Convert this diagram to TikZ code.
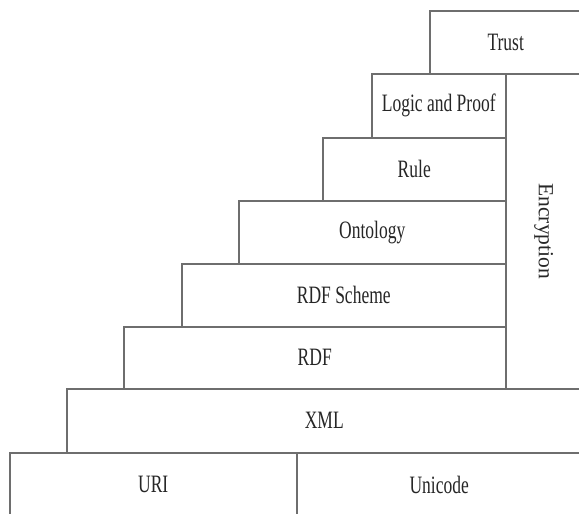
\documentclass[tikz,border=0pt]{standalone}
\usepackage{fontspec}
\setmainfont{Liberation Serif}[FakeStretch=0.70]
\newfontfamily\uprightserif{Liberation Serif}
\begin{document}
\begin{tikzpicture}[x=1pt,y=-1pt,
  layer/.style={draw=edgegray, line width=1.5pt, rectangle, inner sep=0pt,
    anchor=north west, text=black!85, font=\fontsize{25}{29}\selectfont},
  caption/.style={text=black!85, inner sep=0pt, font=\uprightserif\fontsize{21.5}{25}\selectfont}]
  \definecolor{edgegray}{RGB}{110,110,110}
  \useasboundingbox (0,0) rectangle (579,514);
  \clip (0,0) rectangle (579,514);
  \fill[white] (0,0) rectangle (579,514);
  % upper stack, right edge shared with the encryption column
  \node[layer, minimum width=152pt, minimum height=63pt] (trust)    at (429,10)  {Trust};
  \node[layer, minimum width=134pt, minimum height=64pt] (logic)    at (371,73)  {Logic and Proof};
  \node[layer, minimum width=183pt, minimum height=63pt] (rule)     at (322,137) {Rule};
  \node[layer, minimum width=267pt, minimum height=63pt] (ontology) at (238,200) {Ontology};
  \node[layer, minimum width=324pt, minimum height=63pt] (rdfs)     at (181,263) {RDF Scheme};
  \node[layer, minimum width=382pt, minimum height=62pt] (rdf)      at (123,326) {RDF};
  % vertical encryption column
  \node[layer, minimum width=76pt, minimum height=315pt] (enc)      at (505,73)  {};
  \node[caption, rotate=-90] (enclabel) at (enc.center) {Encryption};
  % base layers
  \node[layer, minimum width=515pt, minimum height=64pt] (xml)      at (66,388)  {XML};
  \node[layer, minimum width=287pt, minimum height=64pt] (uri)      at (9,452)   {URI};
  \node[layer, minimum width=285pt, minimum height=64pt] (unicode)  at (296,452) {Unicode};
\end{tikzpicture}
\end{document}
